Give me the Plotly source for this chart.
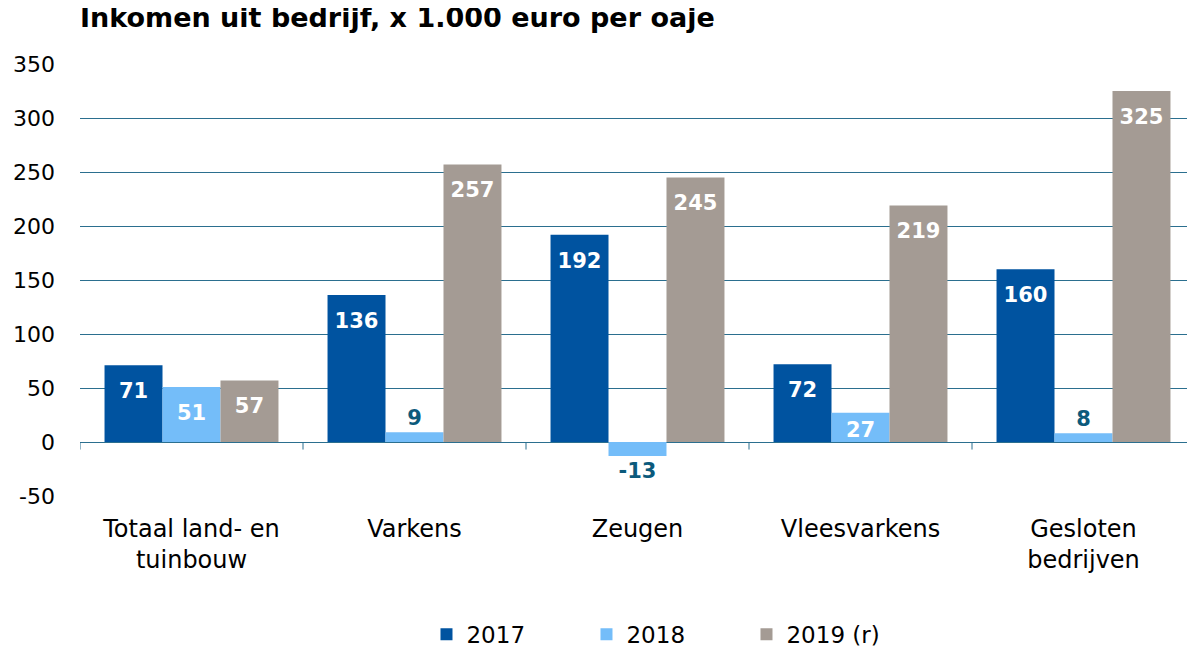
"""Inkomen uit bedrijf per sector, 2017-2019."""
import plotly.graph_objects as go

categories = ["Totaal land- en<br>tuinbouw", "Varkens", "Zeugen", "Vleesvarkens", "Gesloten<br>bedrijven"]
series_names = ["2017", "2018", "2019 (r)"]
values_2017 = [71, 136, 192, 72, 160]
values_2018 = [51, 9, -13, 27, 8]
values_2019 = [57, 257, 245, 219, 325]
y_ticks = [-50, 0, 50, 100, 150, 200, 250, 300, 350]

COLORS = ["#0053A0", "#74BDF9", "#A49B94"]
GRID = "#2B6F8F"
LABEL_OUT = "#0B5A7C"
FONT = "DejaVu Sans, Verdana, sans-serif"
BARGAP = 0.22

# the page body has an 8px margin, so the figure is 8px smaller than the window
W, H = 1187, 642

fig = go.Figure()
all_series = [values_2017, values_2018, values_2019]

for name, vals, color in zip(series_names, all_series, COLORS):
    fig.add_trace(go.Bar(
        x=categories, y=vals, name=name,
        marker=dict(color=color, line=dict(width=0)),
        offsetgroup=name, alignmentgroup="g",
        hoverinfo="x+y",
    ))

# data labels as grouped text points so they sit a bit below the bar top
for name, vals in zip(series_names, all_series):
    pos, sizes, cols = [], [], []
    for v in vals:
        if abs(v) < 15:
            pos.append("top center" if v > 0 else "bottom center")
            sizes.append(1 if v > 0 else 8)
            cols.append(LABEL_OUT)
        elif v < 35:
            pos.append("bottom center")
            sizes.append(12)
            cols.append("white")
        else:
            pos.append("bottom center")
            sizes.append(26)
            cols.append("white")
    fig.add_trace(go.Scatter(
        x=categories, y=vals, mode="markers+text",
        text=[str(v) for v in vals], textposition=pos,
        textfont=dict(family=FONT, size=21, color=cols, weight="bold"),
        marker=dict(size=sizes, opacity=0),
        offsetgroup=name, alignmentgroup="g",
        showlegend=False, hoverinfo="skip",
    ))

# tick marks at the category boundaries on the zero line
for i in range(len(categories) + 1):
    fig.add_shape(type="line", xref="x", yref="y", x0=i - 0.5, x1=i - 0.5,
                  y0=0, y1=-7, line=dict(color=GRID, width=1))

fig.update_layout(
    width=W, height=H,
    margin=dict(l=72, r=0, t=56, b=154, autoexpand=False),
    paper_bgcolor="white", plot_bgcolor="white",
    font=dict(family=FONT, size=22, color="black"),
    barmode="group", bargap=BARGAP, bargroupgap=0,
    scattermode="group", scattergap=BARGAP,
    title=dict(text="<b>Inkomen uit bedrijf, x 1.000 euro per oaje</b>",
               x=72 / W, xanchor="left", y=1, yanchor="top", pad=dict(t=0),
               font=dict(size=27, color="black")),
    legend=dict(orientation="h", x=0.526, xanchor="center", y=-0.32, yanchor="middle",
                font=dict(size=23), entrywidth=115, traceorder="normal"),
    showlegend=True,
)
fig.update_xaxes(showgrid=False, showline=False, ticks="", ticklabelstandoff=16,
                 tickfont=dict(size=24), automargin=False,
                 range=[-0.5, len(categories) - 0.5])
fig.update_yaxes(range=[-50, 350], tickvals=y_ticks, ticktext=[str(t) for t in y_ticks],
                 showgrid=True, gridcolor=GRID, gridwidth=1,
                 zeroline=True, zerolinecolor=GRID, zerolinewidth=1,
                 showline=False, ticks="", ticklabelstandoff=24, automargin=False)

fig.write_html("out.html")
